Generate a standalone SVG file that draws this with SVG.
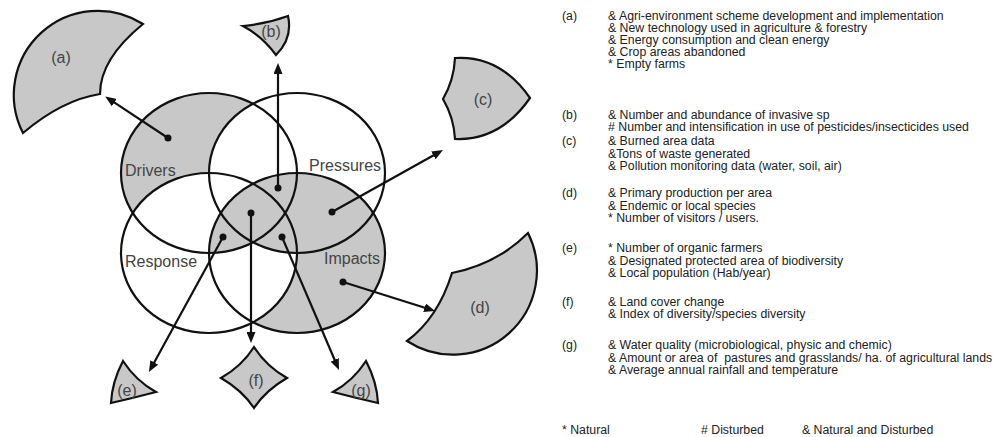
<svg xmlns="http://www.w3.org/2000/svg" width="998" height="437" viewBox="0 0 998 437">
<style>
.bg{fill:#ffffff}
.g{fill:#c8c8c8}
.w{fill:#ffffff}
.ol{fill:none;stroke:#111;stroke-width:2.2}
.sh{fill:#c8c8c8;stroke:#111;stroke-width:2.2;stroke-linejoin:miter}
.lab{font-family:"Liberation Sans",Arial,sans-serif;font-size:16px;fill:#444}
.slab{font-family:"Liberation Sans",Arial,sans-serif;font-size:16px;fill:#444;text-anchor:middle}
.txt{font-family:"Liberation Sans",Arial,sans-serif;font-size:12.3px;fill:#222}
.con line{stroke:#111;stroke-width:2.2}
.dot{fill:#111}
</style>
<defs>
<marker id="ah" markerUnits="userSpaceOnUse" markerWidth="11" markerHeight="9" refX="7" refY="4.5" orient="auto">
<path d="M0,0 L11,4.5 L0,9 Z" fill="#111"/>
</marker>
<clipPath id="clipI"><ellipse cx="297" cy="253" rx="88" ry="80"/></clipPath>
</defs>
<rect class="bg" x="0" y="0" width="998" height="437"/>

<g id="venn">
<ellipse class="g" cx="209" cy="173" rx="88" ry="80"/>
<ellipse class="w" cx="297" cy="173" rx="88" ry="80"/>
<ellipse class="w" cx="209" cy="253" rx="88" ry="80"/>
<ellipse class="g" cx="297" cy="253" rx="88" ry="80"/>
<g clip-path="url(#clipI)">
<ellipse class="w" cx="209" cy="253" rx="88" ry="80"/>
<ellipse class="g" cx="209" cy="173" rx="88" ry="80"/>
<ellipse class="g" cx="297" cy="173" rx="88" ry="80"/>
</g>
<g id="drivers"><ellipse class="ol" cx="209" cy="173" rx="88" ry="80"/><text class="lab" x="125" y="176">Drivers</text></g>
<g id="pressures"><ellipse class="ol" cx="297" cy="173" rx="88" ry="80"/><text class="lab" x="309" y="171">Pressures</text></g>
<g id="response"><ellipse class="ol" cx="209" cy="253" rx="88" ry="80"/><text class="lab" x="125" y="267">Response</text></g>
<g id="impacts"><ellipse class="ol" cx="297" cy="253" rx="88" ry="80"/><text class="lab" x="324" y="264">Impacts</text></g>
</g>

<g id="connectors" class="con">
<line x1="168" y1="138" x2="108.5" y2="98.7" marker-end="url(#ah)"/>
<line x1="278" y1="188" x2="278" y2="67" marker-end="url(#ah)"/>
<line x1="332" y1="212" x2="439.5" y2="152" marker-end="url(#ah)"/>
<line x1="343" y1="282" x2="431.2" y2="309.8" marker-end="url(#ah)"/>
<line x1="223" y1="237" x2="150.9" y2="368.5" marker-end="url(#ah)"/>
<line x1="251" y1="213" x2="251" y2="339" marker-end="url(#ah)"/>
<line x1="282" y1="237" x2="337.4" y2="366.3" marker-end="url(#ah)"/>
<circle class="dot" cx="168" cy="138" r="3.5"/>
<circle class="dot" cx="278" cy="188" r="3.5"/>
<circle class="dot" cx="332" cy="212" r="3.5"/>
<circle class="dot" cx="343" cy="282" r="3.5"/>
<circle class="dot" cx="223" cy="237" r="3.5"/>
<circle class="dot" cx="251" cy="213" r="3.5"/>
<circle class="dot" cx="282" cy="237" r="3.5"/>
</g>

<g id="node-a"><path class="sh" d="M143,24 A84,84 0 0 0 23,133 Q62,100 100,94 Q100,59 143,24 Z"/><text class="slab" x="61" y="63">(a)</text></g>
<g id="node-b"><path class="sh" d="M243,26 Q266,24 288,16 Q293,38 276,55 Q262,36 243,26 Z"/><text class="slab" x="271" y="37">(b)</text></g>
<g id="node-c"><path class="sh" d="M455,58 Q500,55 530,98 Q500,141 455,139 Q454,118 443,99 Q454,80 455,58 Z"/><text class="slab" x="483" y="105">(c)</text></g>
<g id="node-d"><path class="sh" d="M528,233 A84,84 0 0 1 407,341 Q438,318 452,273 Q497,264 528,233 Z"/><text class="slab" x="480" y="313">(d)</text></g>
<g id="node-e"><path class="sh" d="M123,361 Q112,382 111,403 Q133,398 156,392 Q136,381 123,361 Z"/><text class="slab" x="127" y="396">(e)</text></g>
<g id="node-f"><path class="sh" d="M254,347 Q266,366 287,378 Q266,390 254,408 Q242,390 221,378 Q242,366 254,347 Z"/><text class="slab" x="256" y="386">(f)</text></g>
<g id="node-g"><path class="sh" d="M366,361 Q377,382 378,403 Q356,398 333,392 Q353,381 366,361 Z"/><text class="slab" x="361" y="396">(g)</text></g>

<g id="legend" class="txt">
<text x="562" y="20">(a)</text>
<text x="608" y="20">&amp; Agri-environment scheme development and implementation</text>
<text x="608" y="32">&amp; New technology used in agriculture &amp; forestry</text>
<text x="608" y="44">&amp; Energy consumption and clean energy</text>
<text x="608" y="56">&amp; Crop areas abandoned</text>
<text x="608" y="67.5">* Empty farms</text>
<text x="562" y="118.5">(b)</text>
<text x="608" y="118.5">&amp; Number and abundance of invasive sp</text>
<text x="608" y="130.5"># Number and intensification in use of pesticides/insecticides used</text>
<text x="562" y="145">(c)</text>
<text x="608" y="145">&amp; Burned area data</text>
<text x="608" y="157.5">&amp;Tons of waste generated</text>
<text x="608" y="170">&amp; Pollution monitoring data (water, soil, air)</text>
<text x="562" y="197">(d)</text>
<text x="608" y="197">&amp; Primary production per area</text>
<text x="608" y="210">&amp; Endemic or local species</text>
<text x="608" y="222">* Number of visitors / users.</text>
<text x="562" y="252">(e)</text>
<text x="608" y="252">* Number of organic farmers</text>
<text x="608" y="265">&amp; Designated protected area of biodiversity</text>
<text x="608" y="277">&amp; Local population (Hab/year)</text>
<text x="562" y="306">(f)</text>
<text x="608" y="306">&amp; Land cover change</text>
<text x="608" y="318">&amp; Index of diversity/species diversity</text>
<text x="562" y="349">(g)</text>
<text x="608" y="349">&amp; Water quality (microbiological, physic and chemic)</text>
<text x="608" y="361.5" xml:space="preserve">&amp; Amount or area of  pastures and grasslands/ ha. of agricultural lands</text>
<text x="608" y="374">&amp; Average annual rainfall and temperature</text>
<text x="562" y="434">* Natural</text>
<text x="701" y="434"># Disturbed</text>
<text x="802" y="434">&amp; Natural and Disturbed</text>
</g>
</svg>
